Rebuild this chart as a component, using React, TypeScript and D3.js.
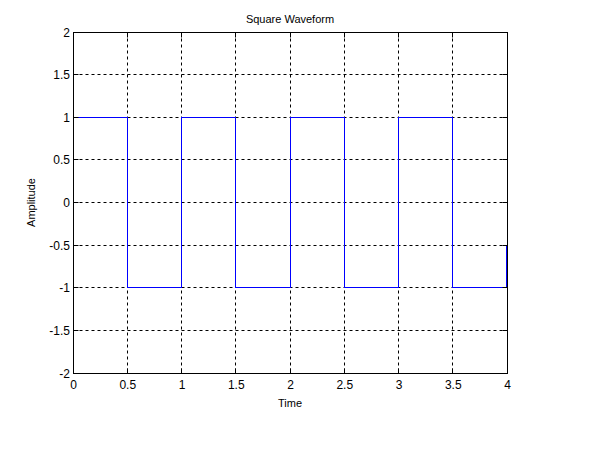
import React from "react";
import * as d3 from "d3";

// Waveform vertices (time, amplitude)
const times = [
  0, 0.5, 0.5, 0.5,
  1.0, 1.0, 1.0,
  1.5, 1.5, 1.5,
  2.0, 2.0, 2.0,
  2.5, 2.5, 2.5,
  3.0, 3.0, 3.0,
  3.5, 3.5, 3.5,
  3.996, 3.996, 4.0, 4.0,
];
const amps = [
  1, 1, 0, -1,
  -1, 0, 1,
  1, 0, -1,
  -1, -0.5, 1,
  1, 0, -1,
  -1, 0, 1,
  1, 0, -1,
  -1, -0.5, -0.5, 0.5,
];

const xTicks = [0, 0.5, 1, 1.5, 2, 2.5, 3, 3.5, 4];
const yTicks = [-2, -1.5, -1, -0.5, 0, 0.5, 1, 1.5, 2];
const xTickLabels = ["0", "0.5", "1", "1.5", "2", "2.5", "3", "3.5", "4"];
const yTickLabels = ["-2", "-1.5", "-1", "-0.5", "0", "0.5", "1", "1.5", "2"];

const W = 598;
const H = 457;
const L = 73, R = 507, T = 32, B = 373;
const font = "Liberation Sans, Arial, sans-serif";
const px = (v: number) => Math.floor(v) + 0.5;

export default function App() {
  const x = d3.scaleLinear().domain([0, 4]).range([L, R]);
  const y = d3.scaleLinear().domain([-2, 2]).range([B, T]);
  const segs = d3.pairs(times.map((t, i) => [t, amps[i]] as [number, number]));
  const tickLen = 5;
  return (
    <svg
      width={W}
      height={H}
      style={{ position: "absolute", left: 0, top: 0, background: "#fff" }}
    >
      <rect x={0} y={0} width={W} height={H} fill="#fff" />
      {/* grid */}
      {xTicks.slice(1, -1).map((v) => (
        <line
          key={"gx" + v}
          x1={px(x(v))}
          x2={px(x(v))}
          y1={px(T)}
          y2={px(B)}
          stroke="#000"
          strokeWidth={1}
          strokeDasharray="3,3"
        />
      ))}
      {yTicks.slice(1, -1).map((v) => (
        <line
          key={"gy" + v}
          y1={px(y(v))}
          y2={px(y(v))}
          x1={px(L)}
          x2={px(R)}
          stroke="#000"
          strokeWidth={1}
          strokeDasharray="3,3"
        />
      ))}
      {/* data */}
      <g stroke="#0000ff" strokeWidth={1} strokeLinecap="square">
        {segs.map(([a, b], i) => (
          <line
            key={"s" + i}
            x1={px(x(a[0]))}
            y1={px(y(a[1]))}
            x2={px(x(b[0]))}
            y2={px(y(b[1]))}
          />
        ))}
      </g>
      {/* box */}
      <rect
        x={px(L)}
        y={px(T)}
        width={R - L}
        height={B - T}
        fill="none"
        stroke="#000"
        strokeWidth={1}
      />
      {/* ticks */}
      {xTicks.map((v) => (
        <g key={"tx" + v}>
          <line x1={px(x(v))} x2={px(x(v))} y1={px(B)} y2={px(B) - tickLen} stroke="#000" />
          <line x1={px(x(v))} x2={px(x(v))} y1={px(T)} y2={px(T) + tickLen} stroke="#000" />
        </g>
      ))}
      {yTicks.map((v) => (
        <g key={"ty" + v}>
          <line y1={px(y(v))} y2={px(y(v))} x1={px(L)} x2={px(L) + tickLen} stroke="#000" />
          <line y1={px(y(v))} y2={px(y(v))} x1={px(R)} x2={px(R) - tickLen} stroke="#000" />
        </g>
      ))}
      {/* tick labels */}
      {xTicks.map((v, i) => (
        <text
          key={"lx" + v}
          x={x(v) + 0.5}
          y={B + 16}
          textAnchor="middle"
          fontFamily={font}
          fontSize={12}
          fill="#000"
        >
          {xTickLabels[i]}
        </text>
      ))}
      {yTicks.map((v, i) => (
        <text
          key={"ly" + v}
          x={L - 3}
          y={y(v) + 4.5}
          textAnchor="end"
          fontFamily={font}
          fontSize={12}
          fill="#000"
        >
          {yTickLabels[i]}
        </text>
      ))}
      {/* title & labels */}
      <text x={(L + R) / 2} y={23} textAnchor="middle" fontFamily={font} fontSize={11} fill="#000">
        Square Waveform
      </text>
      <text x={(L + R) / 2} y={407} textAnchor="middle" fontFamily={font} fontSize={11} fill="#000">
        Time
      </text>
      <text
        transform={`translate(35, ${(T + B) / 2}) rotate(-90)`}
        textAnchor="middle"
        fontFamily={font}
        fontSize={11}
        fill="#000"
      >
        Amplitude
      </text>
    </svg>
  );
}
